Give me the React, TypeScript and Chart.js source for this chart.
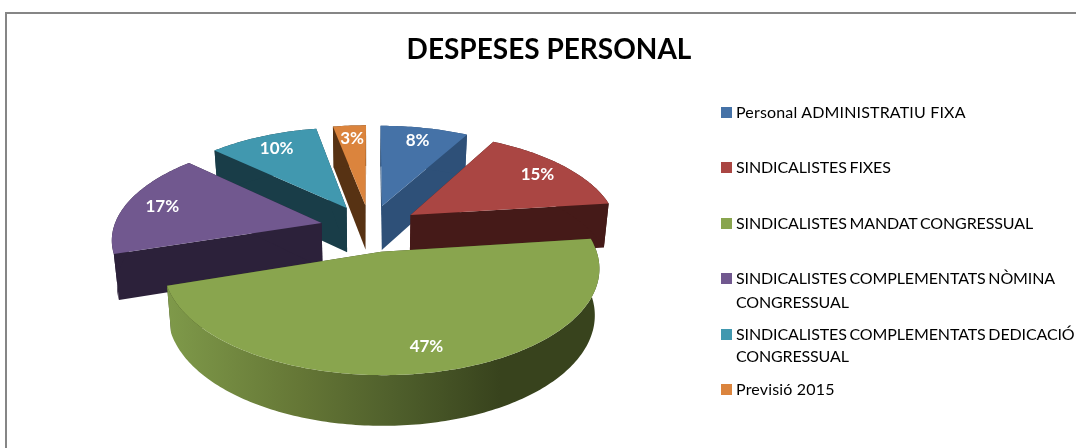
import React, { useEffect, useRef } from "react";
import { Chart, registerables } from "chart.js";

Chart.register(...registerables);

const TITLE = "DESPESES PERSONAL";
const categories = [
  "Personal ADMINISTRATIU FIXA",
  "SINDICALISTES FIXES",
  "SINDICALISTES MANDAT CONGRESSUAL",
  "SINDICALISTES COMPLEMENTATS NÒMINA CONGRESSUAL",
  "SINDICALISTES COMPLEMENTATS DEDICACIÓ CONGRESSUAL",
  "Previsió 2015",
];
const values = [8, 15, 47, 17, 10, 3];
const topColors = ["#4572A7", "#AA4643", "#89A54E", "#71588F", "#4198AF", "#DB843D"];
const wallColors = ["#2E5078", "#451A18", "#3A441D", "#2C213A", "#193D48", "#573213"];

const legendRows = [
  { lines: ["Personal ADMINISTRATIU FIXA"], y: 112 },
  { lines: ["SINDICALISTES FIXES"], y: 167 },
  { lines: ["SINDICALISTES MANDAT CONGRESSUAL"], y: 223 },
  { lines: ["SINDICALISTES COMPLEMENTATS NÒMINA", "CONGRESSUAL"], y: 278 },
  { lines: ["SINDICALISTES COMPLEMENTATS DEDICACIÓ", "CONGRESSUAL"], y: 334 },
  { lines: ["Previsió 2015"], y: 389 },
];

const CX = 370;
const CY = 228;
const KY = 0.47;
const Q = 0.0007;
const DEPTH = 45;
const LABEL_T = 220;

function project(X: number, Y: number, z: number) {
  const s = 1 / (1 - Q * Y);
  const x = CX + X * s;
  const y = CY + Y * KY * s;
  if (!z) return { x, y };
  return {
    x: CX + (x - CX) * 0.98,
    y: y + z * Math.pow(s, 0.6),
  };
}

function fillPoly(ctx: CanvasRenderingContext2D, poly: { x: number; y: number }[], style: any) {
  ctx.beginPath();
  poly.forEach((t, k) => (k === 0 ? ctx.moveTo(t.x, t.y) : ctx.lineTo(t.x, t.y)));
  ctx.closePath();
  ctx.fillStyle = style;
  ctx.fill();
}

const pie3d = {
  id: "pie3d",
  beforeDatasetDraw(chart: any, args: any) {
    const ctx: CanvasRenderingContext2D = chart.ctx;
    const meta = chart.getDatasetMeta(args.index);
    const slices = meta.data.map((el: any, i: number) => {
      const mid = (el.startAngle + el.endAngle) / 2;
      return { el, i, mid, e: el.options.offset, r: el.outerRadius };
    });
    const order = [...slices].sort((a, b) => Math.sin(a.mid) - Math.sin(b.mid));

    const greenGrad = ctx.createLinearGradient(165, 0, 500, 0);
    greenGrad.addColorStop(0, "#7F9A4A");
    greenGrad.addColorStop(0.4, "#657736");
    greenGrad.addColorStop(0.7, "#4E5E2B");
    greenGrad.addColorStop(1, "#38431D");

    for (const sl of order) {
      const ox = Math.cos(sl.mid) * sl.e;
      const oy = Math.sin(sl.mid) * sl.e;
      const rim: [number, number][] = [];
      const steps = Math.max(4, Math.ceil(((sl.el.endAngle - sl.el.startAngle) * 180) / Math.PI));
      for (let k = 0; k <= steps; k++) {
        const a = sl.el.startAngle + ((sl.el.endAngle - sl.el.startAngle) * k) / steps;
        rim.push([ox + Math.cos(a) * sl.r, oy + Math.sin(a) * sl.r]);
      }
      const wall = sl.i === 2 ? greenGrad : wallColors[sl.i];
      const first = rim[0];
      const last = rim[rim.length - 1];
      fillPoly(ctx, [project(ox, oy, 0), project(first[0], first[1], 0), project(first[0], first[1], DEPTH), project(ox, oy, DEPTH)], wallColors[sl.i]);
      fillPoly(ctx, [project(ox, oy, 0), project(last[0], last[1], 0), project(last[0], last[1], DEPTH), project(ox, oy, DEPTH)], wallColors[sl.i]);
      fillPoly(
        ctx,
        [
          ...rim.map((p) => project(p[0], p[1], 0)),
          ...[...rim].reverse().map((p) => project(p[0], p[1], DEPTH)),
        ],
        wall,
      );
      fillPoly(
        ctx,
        [project(ox, oy, 0), ...rim.map((p) => project(p[0], p[1], 0))],
        sl.el.options.backgroundColor,
      );
    }

    ctx.save();
    ctx.font = "bold 17px Lato";
    ctx.fillStyle = "#FFFFFF";
    ctx.textAlign = "center";
    ctx.textBaseline = "middle";
    const total = values.reduce((a, b) => a + b, 0);
    for (const sl of slices) {
      const t = project(Math.cos(sl.mid) * LABEL_T, Math.sin(sl.mid) * LABEL_T, 0);
      ctx.fillText(Math.round((values[sl.i] / total) * 100) + "%", t.x, t.y);
    }
    ctx.restore();
    return false;
  },
};

function lineStyle(line: string): React.CSSProperties {
  if (line.startsWith("SINDICALISTES")) return { wordSpacing: -1.2, letterSpacing: -0.12 };
  if (line === "CONGRESSUAL") return { letterSpacing: -0.15 };
  return { letterSpacing: 0.17 };
}

export default function App() {
  const ref = useRef<HTMLCanvasElement>(null);
  useEffect(() => {
    const chart = new Chart(ref.current!, {
      type: "pie",
      data: {
        labels: categories,
        datasets: [
          {
            data: values,
            backgroundColor: topColors,
            borderWidth: 0,
            offset: 50,
          },
        ],
      },
      options: {
        animation: false,
        responsive: false,
        radius: 208,
        layout: { padding: { left: 22 } },
        plugins: {
          legend: { display: false },
          tooltip: { enabled: false },
          title: {
            display: true,
            text: TITLE,
            color: "#000000",
            font: { family: "Lato", size: 28, weight: "bold" },
            padding: { top: 33, bottom: 10 },
          },
        },
      },
      plugins: [pie3d],
    } as any);
    return () => chart.destroy();
  }, []);

  return (
    <div style={{ position: "absolute", left: 0, top: 0, width: 1076, height: 448, overflow: "hidden", background: "#fff" }}>
      <canvas ref={ref} width={1076} height={448} style={{ display: "block" }} />
      <div style={{ position: "absolute", left: 5, top: 12, width: 1071, height: 436, borderLeft: "2px solid #868686", borderTop: "2px solid #868686", boxSizing: "border-box" }} />
      {legendRows.map((row, i) => (
        <React.Fragment key={i}>
          <div style={{ position: "absolute", left: 721, top: row.y - 5, width: 11, height: 11, background: topColors[i] }} />
          {row.lines.map((line, j) => (
            <div key={j} style={{ position: "absolute", left: 736, top: row.y - 11 + j * 24 - (j && i === 4 ? 2 : 0), height: 22, lineHeight: "22px", fontFamily: "Lato", fontSize: 16, color: "#000", whiteSpace: "nowrap", ...lineStyle(line) }}>
              {line}
            </div>
          ))}
        </React.Fragment>
      ))}
    </div>
  );
}
